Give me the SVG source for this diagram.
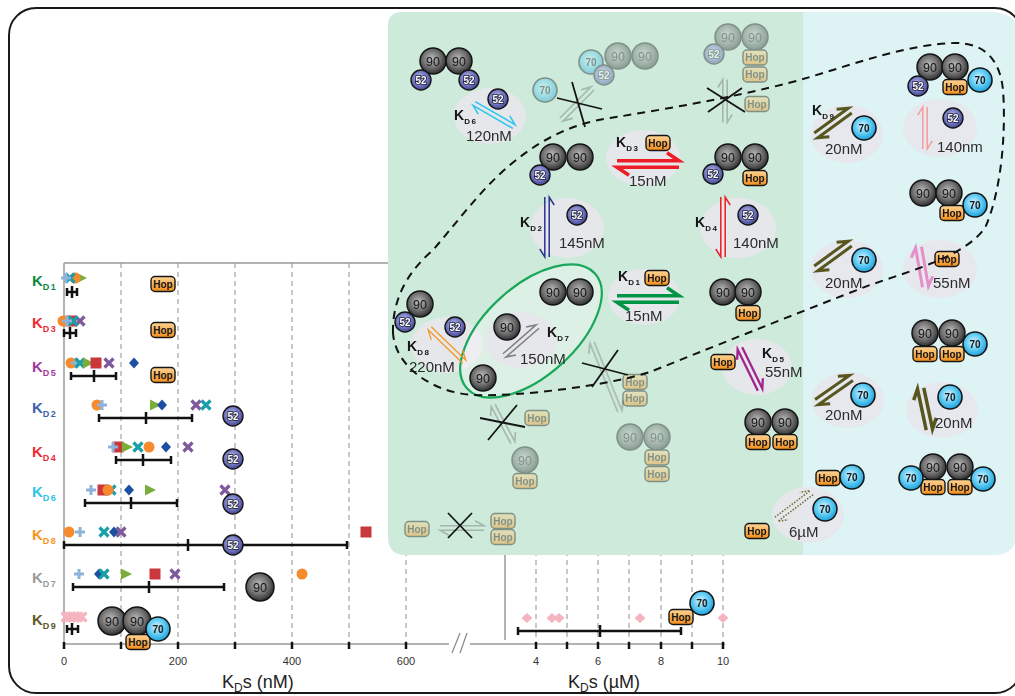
<svg xmlns="http://www.w3.org/2000/svg" width="1015" height="696" viewBox="0 0 1015 696">
<defs>
<radialGradient id="g90" cx="0.45" cy="0.42" r="0.62"><stop offset="0" stop-color="#bdbdbd"/><stop offset="0.55" stop-color="#707070"/><stop offset="1" stop-color="#262626"/></radialGradient>
<radialGradient id="g52" cx="0.45" cy="0.42" r="0.62"><stop offset="0" stop-color="#c4c6ee"/><stop offset="0.55" stop-color="#777bc2"/><stop offset="1" stop-color="#3a3d8c"/></radialGradient>
<radialGradient id="g70" cx="0.45" cy="0.42" r="0.62"><stop offset="0" stop-color="#d9f5ff"/><stop offset="0.55" stop-color="#5cc9f2"/><stop offset="1" stop-color="#129ad6"/></radialGradient>
<linearGradient id="gH" x1="0" y1="0" x2="0" y2="1"><stop offset="0" stop-color="#fdd596"/><stop offset="1" stop-color="#f38d1a"/></linearGradient>
<path id="mP" d="M-5,0H5M0,-5V5" fill="none" stroke="#8db3db" stroke-width="3"/>
<path id="mX" d="M-4.5,-4.5L4.5,4.5M-4.5,4.5L4.5,-4.5" fill="none" stroke-width="3.2"/>
<circle id="mC" r="5.5" fill="#f58b2c"/>
<path id="mT" d="M-5,-5.5L6,0L-5,5.5Z" fill="#7bad3a"/>
<rect id="mS" x="-5.5" y="-5.5" width="11" height="11" fill="#c9393b"/>
<path id="mD" d="M0,-5.5L5,0L0,5.5L-5,0Z" fill="#1c4ea1"/>
<path id="mPD" d="M0,-5L5.5,0L0,5L-5.5,0Z" fill="#f4b5c0"/>
</defs>
<style>
text{font-family:"Liberation Sans",Arial,sans-serif}
.c90{fill:url(#g90);stroke:#151515;stroke-width:1.5}
.c52{fill:url(#g52);stroke:#151515;stroke-width:1.4}
.c70{fill:url(#g70);stroke:#151515;stroke-width:1.6}
.hop{fill:url(#gH);stroke:#151515;stroke-width:1.4}
.t9{font-size:12.5px;fill:#151515;text-anchor:middle}
.t5{font-size:10px;font-weight:bold;fill:#fff;stroke:#1b1b3a;stroke-width:1.6px;paint-order:stroke;text-anchor:middle}
.t7{font-size:10px;font-weight:bold;fill:#151515;text-anchor:middle}
.tH{font-size:10px;font-weight:bold;fill:#151515;text-anchor:middle}
.ell{fill:#e6e6ec;opacity:.93}
.conc{font-size:15px;fill:#2b2b2b}
.kd{font-size:14px;font-weight:bold;fill:#151515}
.sub{font-size:8px;letter-spacing:1.5px}
.fade{opacity:.42}
.eq{fill:none}
.x{stroke:#151515;stroke-width:1.8;fill:none}
.grid{stroke:#8f8f8f;stroke-width:1;stroke-dasharray:5 4}
.ax{stroke:#9a9a9a;stroke-width:1.5;fill:none}
.eb{stroke:#111;stroke-width:2.5;fill:none}
.tick{font-size:11px;fill:#333;text-anchor:middle}
.rl{font-size:15px;font-weight:bold}
.rs{font-size:9px;letter-spacing:1.5px}
</style>
<rect width="1015" height="696" fill="#fff"/>

<g id="plot">
<path class="grid" d="M121,263V643M178,263V643M235,263V643M292,263V643M349,263V643M406,263V643M536,263V643M567,263V643M598,263V643M629,263V643M661,263V643M692,263V643M723,263V643"/>
<path class="ax" d="M64,263H505M64,263V644M505,263V640M64,644H449M470,644H725"/>
<path d="M452,653L460,633M460,653L467,633" stroke="#888" stroke-width="1.2"/>
<path d="M64,642V649M121,642V649M178,642V649M235,642V649M292,642V649M349,642V649M406,642V649M536,642V649M567,642V649M598,642V649M629,642V649M661,642V649M692,642V649M723,642V649" stroke="#111" stroke-width="2.5"/>
<text class="tick" x="64" y="665">0</text>
<text class="tick" x="178" y="665">200</text>
<text class="tick" x="292" y="665">400</text>
<text class="tick" x="406" y="665">600</text>
<text class="tick" x="536" y="665">4</text>
<text class="tick" x="598" y="665">6</text>
<text class="tick" x="661" y="665">8</text>
<text class="tick" x="723" y="665">10</text>
<text x="222" y="688" font-size="18" fill="#222">K<tspan font-size="12" dy="4">D</tspan><tspan dy="-4">s (nM)</tspan></text>
<text x="568" y="688" font-size="18" fill="#222">K<tspan font-size="12" dy="4">D</tspan><tspan dy="-4">s (µM)</tspan></text>

<text class="rl" x="32" y="286" fill="#0a8a3e">K<tspan class="rs" dy="4">D1</tspan></text>
<text class="rl" x="32" y="328" fill="#ee2a36">K<tspan class="rs" dy="4">D3</tspan></text>
<text class="rl" x="32" y="372" fill="#a2379b">K<tspan class="rs" dy="4">D5</tspan></text>
<text class="rl" x="32" y="413" fill="#3a62ad">K<tspan class="rs" dy="4">D2</tspan></text>
<text class="rl" x="32" y="457" fill="#ee2a36">K<tspan class="rs" dy="4">D4</tspan></text>
<text class="rl" x="32" y="497" fill="#2ec4e6">K<tspan class="rs" dy="4">D6</tspan></text>
<text class="rl" x="32" y="540" fill="#f7941d">K<tspan class="rs" dy="4">D8</tspan></text>
<text class="rl" x="32" y="583" fill="#9a9a9a">K<tspan class="rs" dy="4">D7</tspan></text>
<text class="rl" x="32" y="625" fill="#5e5a24">K<tspan class="rs" dy="4">D9</tspan></text>

<g id="row1">
<use href="#mT" x="81" y="278"/><use href="#mC" x="75" y="278"/><use href="#mX" x="70" y="278" stroke="#1a9ea8"/><use href="#mP" x="66" y="278"/>
<path class="eb" d="M67,292H77M67,288V296M77,288V296M72,286V298"/>
</g>
<g id="row3">
<use href="#mS" x="71" y="321"/><use href="#mX" x="80" y="321" stroke="#7e5a9c"/><use href="#mX" x="73" y="321" stroke="#1a9ea8"/><use href="#mC" x="63" y="321"/><use href="#mP" x="67" y="321"/>
<path class="eb" d="M64,333H76M64,329V337M76,329V337M70,327V339"/>
</g>
<g id="row5">
<use href="#mC" x="71" y="363"/><use href="#mP" x="76" y="363"/><use href="#mX" x="80" y="363" stroke="#1a9ea8"/><use href="#mT" x="88" y="363"/><use href="#mS" x="96" y="363"/><use href="#mX" x="109" y="363" stroke="#7e5a9c"/><use href="#mD" x="134" y="363"/>
<path class="eb" d="M71,376H116M71,372V380M116,372V380M94,370V382"/>
</g>
<g id="row2">
<use href="#mC" x="97" y="405"/><use href="#mP" x="102" y="405"/><use href="#mT" x="155" y="405"/><use href="#mD" x="162" y="405"/><use href="#mX" x="196" y="405" stroke="#7e5a9c"/><use href="#mX" x="206" y="405" stroke="#1a9ea8"/>
<path class="eb" d="M99,418H192M99,414V422M192,414V422M146,412V424"/>
</g>
<g id="row4">
<use href="#mS" x="118" y="447"/><use href="#mP" x="113" y="447"/><use href="#mT" x="127" y="447"/><use href="#mX" x="138" y="447" stroke="#1a9ea8"/><use href="#mC" x="149" y="447"/><use href="#mD" x="166" y="447"/><use href="#mX" x="188" y="447" stroke="#7e5a9c"/>
<path class="eb" d="M116,460H171M116,456V464M171,456V464M143,454V466"/>
</g>
<g id="row6">
<use href="#mP" x="91" y="490"/><use href="#mS" x="103" y="490"/><use href="#mX" x="111" y="490" stroke="#1a9ea8"/><use href="#mC" x="108" y="490"/><use href="#mD" x="129" y="490"/><use href="#mT" x="150" y="490"/><use href="#mX" x="225" y="490" stroke="#7e5a9c"/>
<path class="eb" d="M85,503H177M85,499V507M177,499V507M131,497V509"/>
</g>
<g id="row8">
<use href="#mC" x="69" y="532"/><use href="#mP" x="80" y="532"/><use href="#mX" x="104" y="532" stroke="#1a9ea8"/><use href="#mD" x="114" y="532"/><use href="#mX" x="121" y="532" stroke="#7e5a9c"/><use href="#mS" x="366" y="532"/>
<path class="eb" d="M64,545H347M64,541V549M347,541V549M188,539V551"/>
</g>
<g id="row7">
<use href="#mP" x="79" y="574"/><use href="#mD" x="99" y="574"/><use href="#mX" x="104" y="574" stroke="#1a9ea8"/><use href="#mT" x="126" y="574"/><use href="#mS" x="155" y="574"/><use href="#mX" x="175" y="574" stroke="#7e5a9c"/><use href="#mC" x="302" y="574"/>
<path class="eb" d="M73,587H224M73,583V591M224,583V591M149,581V593"/>
</g>
<g id="row9">
<use href="#mX" x="66" y="617" stroke="#f4b5c0"/><use href="#mX" x="70" y="617" stroke="#f4b5c0"/><use href="#mX" x="74" y="617" stroke="#f4b5c0"/><use href="#mX" x="78" y="617" stroke="#f4b5c0"/><use href="#mX" x="82" y="617" stroke="#f4b5c0"/>
<path class="eb" d="M67,629H78M67,625V633M78,625V633M72,623V635"/>
<use href="#mPD" x="527" y="618"/><use href="#mPD" x="552" y="618"/><use href="#mPD" x="559" y="618"/><use href="#mPD" x="640" y="618"/><use href="#mPD" x="723" y="618"/>
<path class="eb" d="M518,631H681M518,627V635M681,627V635M600,625V637"/>
</g>

<g id="plot-icons">
<rect class="hop" x="151" y="276.5" width="24" height="15" rx="4"/><text class="tH" x="163" y="287.6">Hop</text>
<rect class="hop" x="151" y="322.5" width="24" height="15" rx="4"/><text class="tH" x="163" y="333.6">Hop</text>
<rect class="hop" x="151" y="367.5" width="24" height="15" rx="4"/><text class="tH" x="163" y="378.6">Hop</text>
<circle class="c52" cx="233" cy="416" r="10"/><text class="t5" x="233" y="419.5">52</text>
<circle class="c52" cx="233" cy="459" r="10"/><text class="t5" x="233" y="462.5">52</text>
<circle class="c52" cx="233" cy="504" r="10"/><text class="t5" x="233" y="507.5">52</text>
<circle class="c52" cx="233" cy="545" r="10"/><text class="t5" x="233" y="548.5">52</text>
<circle class="c90" cx="260" cy="587" r="14"/><text class="t9" x="260" y="591.5">90</text>
<circle class="c90" cx="112" cy="621" r="14"/><text class="t9" x="112" y="625.5">90</text>
<circle class="c90" cx="137" cy="621" r="14"/><text class="t9" x="137" y="625.5">90</text>
<rect class="hop" x="126" y="634.5" width="24" height="15" rx="4"/><text class="tH" x="138" y="645.6">Hop</text>
<circle class="c70" cx="158" cy="629" r="12"/><text class="t7" x="158" y="632.5">70</text>
<rect class="hop" x="669" y="609.5" width="24" height="15" rx="4"/><text class="tH" x="681" y="620.6">Hop</text>
<circle class="c70" cx="702" cy="603" r="12"/><text class="t7" x="702" y="606.5">70</text>
</g>
</g>

<g id="panels">
<path d="M402,12H803V555H406Q388,555 388,537V26Q388,12 402,12Z" fill="#cdeada"/>
<path d="M803,12H990Q1008,12 1016,22V540Q1012,555 995,555H803Z" fill="#def3f4"/>
</g>

<g id="ellipses">
<ellipse class="ell" cx="490" cy="116" rx="36" ry="28"/>
<ellipse class="ell" cx="643" cy="158" rx="37" ry="28"/>
<ellipse class="ell" cx="567" cy="228" rx="37" ry="30"/>
<ellipse class="ell" cx="738" cy="228" rx="38" ry="30"/>
<ellipse class="ell" cx="644" cy="297" rx="36" ry="28"/>
<ellipse class="ell" cx="447" cy="345" rx="36" ry="28"/>
<ellipse class="ell" cx="757" cy="367" rx="35" ry="28"/>
<ellipse class="ell" cx="847" cy="134" rx="36" ry="29"/>
<ellipse class="ell" cx="940" cy="128" rx="37" ry="29"/>
<ellipse class="ell" cx="847" cy="269" rx="36" ry="29"/>
<ellipse class="ell" cx="940" cy="269" rx="37" ry="29"/>
<ellipse class="ell" cx="848" cy="400" rx="36" ry="28"/>
<ellipse class="ell" cx="942" cy="410" rx="36" ry="28"/>
<ellipse class="ell" cx="808" cy="515" rx="36" ry="28"/>
</g>

<g id="n-kd7-group">
<ellipse cx="531" cy="331" rx="86" ry="45" transform="rotate(-42 531 331)" fill="#fff" fill-opacity=".3" stroke="#19a85a" stroke-width="2.2"/>
<ellipse class="ell" cx="521" cy="340" rx="36" ry="28"/>
</g>

<g id="connectors">
<path class="eq" d="M-23,-2.2H23l-9,-5M23,2.2H-23l9,5" stroke="#2bc4ee" stroke-width="1.5" transform="translate(494,115) rotate(30)"/>
<path class="eq" d="M-31,-3.2H31l-12,-8M31,3.2H-31l12,8" stroke="#ee1c24" stroke-width="3.5" transform="translate(648,164)"/>
<path class="eq" d="M-30,-2.2H30l-8,-5M30,2.2H-30l8,5" stroke="#2e3192" stroke-width="1.5" transform="translate(547,227) rotate(-90) scale(1,-1)"/>
<path class="eq" d="M-30,-2.2H30l-8,-5M30,2.2H-30l8,5" stroke="#ee1c24" stroke-width="1.5" transform="translate(723,227) rotate(-90) scale(1,-1)"/>
<path class="eq" d="M-31,-3.2H31l-12,-8M31,3.2H-31l12,8" stroke="#009444" stroke-width="3.5" transform="translate(648,299)"/>
<path class="eq" d="M-22,-2.2H22l-9,-5M22,2.2H-22l9,5" stroke="#7f7f7f" stroke-width="1.5" transform="translate(521,341) rotate(-41)"/>
<path class="eq" d="M-24,-2.2H24l-9,-5M24,2.2H-24l9,5" stroke="#f7941d" stroke-width="1.2" transform="translate(447,345) rotate(44)"/>
<path class="eq" d="M-23,-2.5H23l-9,-5M23,2.5H-23l9,5" stroke="#a1248f" stroke-width="2.3" transform="translate(750,369) rotate(64)"/>
<path class="eq" d="M-21,-3H21l-10,-6M21,3H-21l10,6" stroke="#57561f" stroke-width="3" transform="translate(833,123) rotate(-36)"/>
<path class="eq" d="M-21,-2.2H21l-8,-5M21,2.2H-21l8,5" stroke="#f49c9c" stroke-width="1.5" transform="translate(925,128) rotate(90)"/>
<path class="eq" d="M-21,-3H21l-10,-6M21,3H-21l10,6" stroke="#57561f" stroke-width="3" transform="translate(833,256) rotate(-36)"/>
<path class="eq" d="M-20,-3H20l-9,-6M20,3H-20l9,6" stroke="#e48fc8" stroke-width="3" transform="translate(922,267) rotate(80)"/>
<path class="eq" d="M-21,-3H21l-10,-6M21,3H-21l10,6" stroke="#57561f" stroke-width="3" transform="translate(834,390) rotate(-35)"/>
<path class="eq" d="M-21,-3.2H21l-10,-6M21,3.2H-21l10,6" stroke="#57561f" stroke-width="3.5" transform="translate(925,409) rotate(78)"/>
<path class="eq" d="M-22,-2.5H22l-9,-5M22,2.5H-22l9,5" stroke="#6b6b2b" stroke-width="1.5" stroke-dasharray="1.5 1.5" transform="translate(794,506) rotate(-37)"/>
<g class="fade" stroke="#6e6e6e" stroke-width="1.6">
<path class="eq" d="M-22,-2.2H22l-9,-5M22,2.2H-22l9,5" transform="translate(577,104) rotate(-45)"/>
<path class="eq" d="M-21.5,-2.2H21.5l-8,-5M21.5,2.2H-21.5l8,5" transform="translate(725,101) rotate(90)"/>
<path class="eq" d="M-21,-2.2H21l-8,-5M21,2.2H-21l8,5" transform="translate(503,424) rotate(62)"/>
<path class="eq" d="M-37,-2.2H37l-9,-5M37,2.2H-37l9,5" transform="translate(606,377) rotate(68)"/>
<path class="eq" d="M-22,-2.2H22l-9,-5M22,2.2H-22l9,5" transform="translate(462,528)"/>
</g>
<path class="x" d="M557,98L602,109M572,82L585,127"/>
<path class="x" d="M707,88L745,112M708,112L742,88"/>
<path class="x" d="M480,418L525,427M517,405L488,440"/>
<path class="x" d="M582,363L628,375M618,350L592,387"/>
<path class="x" d="M448,513L472,538M472,513L448,538"/>
</g>

<g id="n-90-90-52-52">
<circle class="c90" cx="433" cy="61" r="13"/><text class="t9" x="433" y="65.5">90</text>
<circle class="c90" cx="459" cy="61" r="13"/><text class="t9" x="459" y="65.5">90</text>
<circle class="c52" cx="421" cy="80" r="10"/><text class="t5" x="421" y="83.5">52</text>
<circle class="c52" cx="469" cy="80" r="10"/><text class="t5" x="469" y="83.5">52</text>
</g>
<g id="n-kd6">
<circle class="c52" cx="498" cy="99" r="10"/><text class="t5" x="498" y="102.5">52</text>
<text class="kd" x="454" y="120">K<tspan class="sub" dy="4">D6</tspan></text>
<text class="conc" x="466" y="141">120nM</text>
</g>
<g id="n-faded-70" class="fade">
<circle class="c70" cx="545" cy="90" r="12"/><text class="t7" x="545" y="93.5">70</text>
</g>
<g id="n-faded-70-52-90-90" class="fade">
<circle class="c70" cx="591" cy="62" r="12"/><text class="t7" x="591" y="65.5">70</text>
<circle class="c90" cx="618" cy="56" r="13"/><text class="t9" x="618" y="60.5">90</text>
<circle class="c90" cx="645" cy="56" r="13"/><text class="t9" x="645" y="60.5">90</text>
<circle class="c52" cx="604" cy="75" r="10"/><text class="t5" x="604" y="78.5">52</text>
</g>
<g id="n-faded-90-90-52-hop-hop" class="fade">
<circle class="c90" cx="728" cy="37" r="13"/><text class="t9" x="728" y="41.5">90</text>
<circle class="c90" cx="755" cy="37" r="13"/><text class="t9" x="755" y="41.5">90</text>
<circle class="c52" cx="714" cy="54" r="10"/><text class="t5" x="714" y="57.5">52</text>
<rect class="hop" x="743" y="50" width="24" height="15" rx="4"/><text class="tH" x="755" y="61">Hop</text>
<rect class="hop" x="743" y="67" width="24" height="15" rx="4"/><text class="tH" x="755" y="78">Hop</text>
</g>
<g id="n-faded-hop-a" class="fade">
<rect class="hop" x="745" y="96.5" width="24" height="15" rx="4"/><text class="tH" x="757" y="107.6">Hop</text>
</g>
<g id="n-90-90-52">
<circle class="c90" cx="553" cy="157" r="13"/><text class="t9" x="553" y="161.5">90</text>
<circle class="c90" cx="580" cy="157" r="13"/><text class="t9" x="580" y="161.5">90</text>
<circle class="c52" cx="540" cy="175" r="10"/><text class="t5" x="540" y="178.5">52</text>
</g>
<g id="n-kd3">
<text class="kd" x="616" y="147">K<tspan class="sub" dy="4">D3</tspan></text>
<rect class="hop" x="646" y="135.5" width="24" height="15" rx="4"/><text class="tH" x="658" y="146.6">Hop</text>
<text class="conc" x="629" y="186">15nM</text>
</g>
<g id="n-90-90-52-hop">
<circle class="c90" cx="728" cy="157" r="13"/><text class="t9" x="728" y="161.5">90</text>
<circle class="c90" cx="755" cy="157" r="13"/><text class="t9" x="755" y="161.5">90</text>
<circle class="c52" cx="713" cy="174" r="10"/><text class="t5" x="713" y="177.5">52</text>
<rect class="hop" x="743" y="170.5" width="24" height="15" rx="4"/><text class="tH" x="755" y="181.6">Hop</text>
</g>
<g id="n-kd2">
<text class="kd" x="520" y="227">K<tspan class="sub" dy="4">D2</tspan></text>
<circle class="c52" cx="577" cy="215" r="10"/><text class="t5" x="577" y="218.5">52</text>
<text class="conc" x="559" y="248">145nM</text>
</g>
<g id="n-kd4">
<text class="kd" x="695" y="227">K<tspan class="sub" dy="4">D4</tspan></text>
<circle class="c52" cx="748" cy="215" r="10"/><text class="t5" x="748" y="218.5">52</text>
<text class="conc" x="733" y="248">140nM</text>
</g>
<g id="n-kd7">
<circle class="c90" cx="553" cy="292" r="13"/><text class="t9" x="553" y="296.5">90</text>
<circle class="c90" cx="580" cy="292" r="13"/><text class="t9" x="580" y="296.5">90</text>
<circle class="c90" cx="507" cy="327" r="13"/><text class="t9" x="507" y="331.5">90</text>
<circle class="c90" cx="483" cy="378" r="13"/><text class="t9" x="483" y="382.5">90</text>
<text class="kd" x="547" y="337">K<tspan class="sub" dy="4">D7</tspan></text>
<text class="conc" x="520" y="364">150nM</text>
</g>
<g id="n-kd8">
<circle class="c90" cx="420" cy="304" r="13"/><text class="t9" x="420" y="308.5">90</text>
<circle class="c52" cx="405" cy="322" r="10"/><text class="t5" x="405" y="325.5">52</text>
<circle class="c52" cx="455" cy="327" r="10"/><text class="t5" x="455" y="330.5">52</text>
<text class="kd" x="407" y="351">K<tspan class="sub" dy="4">D8</tspan></text>
<text class="conc" x="409" y="372">220nM</text>
</g>
<g id="n-kd1">
<text class="kd" x="618" y="281">K<tspan class="sub" dy="4">D1</tspan></text>
<rect class="hop" x="645" y="270.5" width="24" height="15" rx="4"/><text class="tH" x="657" y="281.6">Hop</text>
<text class="conc" x="625" y="321">15nM</text>
</g>
<g id="n-90-90-hop">
<circle class="c90" cx="723" cy="292" r="13"/><text class="t9" x="723" y="296.5">90</text>
<circle class="c90" cx="748" cy="292" r="13"/><text class="t9" x="748" y="296.5">90</text>
<rect class="hop" x="736" y="305.5" width="24" height="15" rx="4"/><text class="tH" x="748" y="316.6">Hop</text>
</g>
<g id="n-kd5">
<rect class="hop" x="711" y="354.5" width="24" height="15" rx="4"/><text class="tH" x="723" y="365.6">Hop</text>
<text class="kd" x="762" y="358">K<tspan class="sub" dy="4">D5</tspan></text>
<text class="conc" x="765" y="377">55nM</text>
</g>
<g id="n-90-90-hop-hop">
<circle class="c90" cx="758" cy="422" r="13"/><text class="t9" x="758" y="426.5">90</text>
<circle class="c90" cx="785" cy="422" r="13"/><text class="t9" x="785" y="426.5">90</text>
<rect class="hop" x="746" y="434.5" width="24" height="15" rx="4"/><text class="tH" x="758" y="445.6">Hop</text>
<rect class="hop" x="773" y="434.5" width="24" height="15" rx="4"/><text class="tH" x="785" y="445.6">Hop</text>
</g>
<g id="n-faded-hop-b" class="fade">
<rect class="hop" x="525" y="410.5" width="24" height="15" rx="4"/><text class="tH" x="537" y="421.6">Hop</text>
</g>
<g id="n-faded-90-hop" class="fade">
<circle class="c90" cx="525" cy="460" r="13"/><text class="t9" x="525" y="464.5">90</text>
<rect class="hop" x="513" y="473.5" width="24" height="15" rx="4"/><text class="tH" x="525" y="484.6">Hop</text>
</g>
<g id="n-faded-hop-hop-a" class="fade">
<rect class="hop" x="623" y="374.5" width="24" height="15" rx="4"/><text class="tH" x="635" y="385.6">Hop</text>
<rect class="hop" x="623" y="391" width="24" height="15" rx="4"/><text class="tH" x="635" y="402">Hop</text>
</g>
<g id="n-faded-90-90-hop-hop" class="fade">
<circle class="c90" cx="630" cy="437" r="13"/><text class="t9" x="630" y="441.5">90</text>
<circle class="c90" cx="657" cy="437" r="13"/><text class="t9" x="657" y="441.5">90</text>
<rect class="hop" x="645" y="450" width="24" height="15" rx="4"/><text class="tH" x="657" y="461">Hop</text>
<rect class="hop" x="645" y="466.5" width="24" height="15" rx="4"/><text class="tH" x="657" y="477.6">Hop</text>
</g>
<g id="n-faded-hop-c" class="fade">
<rect class="hop" x="405" y="521.5" width="24" height="15" rx="4"/><text class="tH" x="417" y="532.6">Hop</text>
</g>
<g id="n-faded-hop-hop-b" class="fade">
<rect class="hop" x="491" y="513.5" width="24" height="15" rx="4"/><text class="tH" x="503" y="524.6">Hop</text>
<rect class="hop" x="491" y="529.5" width="24" height="15" rx="4"/><text class="tH" x="503" y="540.6">Hop</text>
</g>
<g id="n-hop">
<rect class="hop" x="745" y="523.5" width="24" height="15" rx="4"/><text class="tH" x="757" y="534.6">Hop</text>
</g>
<g id="n-6uM">
<circle class="c70" cx="825" cy="509" r="12"/><text class="t7" x="825" y="512.5">70</text>
<text class="conc" x="789" y="537">6µM</text>
</g>
<g id="n-hop-70">
<rect class="hop" x="816" y="470.5" width="24" height="15" rx="4"/><text class="tH" x="828" y="481.6">Hop</text>
<circle class="c70" cx="852" cy="477" r="12"/><text class="t7" x="852" y="480.5">70</text>
</g>
<g id="n-90-90-52-hop-70">
<circle class="c90" cx="930" cy="67" r="13"/><text class="t9" x="930" y="71.5">90</text>
<circle class="c90" cx="955" cy="67" r="13"/><text class="t9" x="955" y="71.5">90</text>
<circle class="c52" cx="918" cy="86" r="10"/><text class="t5" x="918" y="89.5">52</text>
<rect class="hop" x="943" y="79.5" width="24" height="15" rx="4"/><text class="tH" x="955" y="90.6">Hop</text>
<circle class="c70" cx="980" cy="80" r="12"/><text class="t7" x="980" y="83.5">70</text>
</g>
<g id="n-kd9">
<text class="kd" x="812" y="115">K<tspan class="sub" dy="4">D9</tspan></text>
<circle class="c70" cx="864" cy="128" r="12"/><text class="t7" x="864" y="131.5">70</text>
<text class="conc" x="825" y="154">20nM</text>
</g>
<g id="n-140nm">
<circle class="c52" cx="953" cy="118" r="10"/><text class="t5" x="953" y="121.5">52</text>
<text class="conc" x="937" y="152">140nm</text>
</g>
<g id="n-90-90-hop-70">
<circle class="c90" cx="923" cy="193" r="13"/><text class="t9" x="923" y="197.5">90</text>
<circle class="c90" cx="949" cy="193" r="13"/><text class="t9" x="949" y="197.5">90</text>
<rect class="hop" x="940" y="205.5" width="24" height="15" rx="4"/><text class="tH" x="952" y="216.6">Hop</text>
<circle class="c70" cx="975" cy="205" r="12"/><text class="t7" x="975" y="208.5">70</text>
</g>
<g id="n-20nM-b">
<circle class="c70" cx="864" cy="260" r="12"/><text class="t7" x="864" y="263.5">70</text>
<text class="conc" x="825" y="288">20nM</text>
</g>
<g id="n-55nM-b">
<rect class="hop" x="935" y="251.5" width="24" height="15" rx="4"/><text class="tH" x="947" y="262.6">Hop</text>
<text class="conc" x="933" y="288">55nM</text>
</g>
<g id="n-90-90-hop-hop-70">
<circle class="c90" cx="925" cy="333" r="13"/><text class="t9" x="925" y="337.5">90</text>
<circle class="c90" cx="952" cy="333" r="13"/><text class="t9" x="952" y="337.5">90</text>
<rect class="hop" x="913" y="346.5" width="24" height="15" rx="4"/><text class="tH" x="925" y="357.6">Hop</text>
<rect class="hop" x="940" y="346.5" width="24" height="15" rx="4"/><text class="tH" x="952" y="357.6">Hop</text>
<circle class="c70" cx="975" cy="344" r="12"/><text class="t7" x="975" y="347.5">70</text>
</g>
<g id="n-20nM-c">
<circle class="c70" cx="863" cy="395" r="12"/><text class="t7" x="863" y="398.5">70</text>
<text class="conc" x="825" y="420">20nM</text>
</g>
<g id="n-20nM-d">
<circle class="c70" cx="950" cy="397" r="12"/><text class="t7" x="950" y="400.5">70</text>
<text class="conc" x="935" y="428">20nM</text>
</g>
<g id="n-70-90-90-70-hop-hop">
<circle class="c90" cx="933" cy="467" r="13"/><text class="t9" x="933" y="471.5">90</text>
<circle class="c90" cx="960" cy="467" r="13"/><text class="t9" x="960" y="471.5">90</text>
<rect class="hop" x="921" y="479.5" width="24" height="15" rx="4"/><text class="tH" x="933" y="490.6">Hop</text>
<rect class="hop" x="948" y="479.5" width="24" height="15" rx="4"/><text class="tH" x="960" y="490.6">Hop</text>
<circle class="c70" cx="911" cy="478" r="12"/><text class="t7" x="911" y="481.5">70</text>
<circle class="c70" cx="983" cy="479" r="12"/><text class="t7" x="983" y="482.5">70</text>
</g>

<g id="loop">
<path d="M393,333C392,295 412,268 433,250C455,225 480,190 510,165C540,140 570,124 610,118C680,107 760,92 810,77C860,62 910,44 955,43C985,43 1000,60 1003,90C1006,130 1002,190 985,228C965,255 920,268 870,285C800,312 700,352 650,372C610,385 520,397 473,395C430,392 395,365 393,333Z" fill="none" stroke="#111" stroke-width="2" stroke-dasharray="8 6"/>
</g>

<rect x="9" y="8" width="1013" height="685" rx="27" fill="none" stroke="#1a1a1a" stroke-width="2"/>
</svg>
